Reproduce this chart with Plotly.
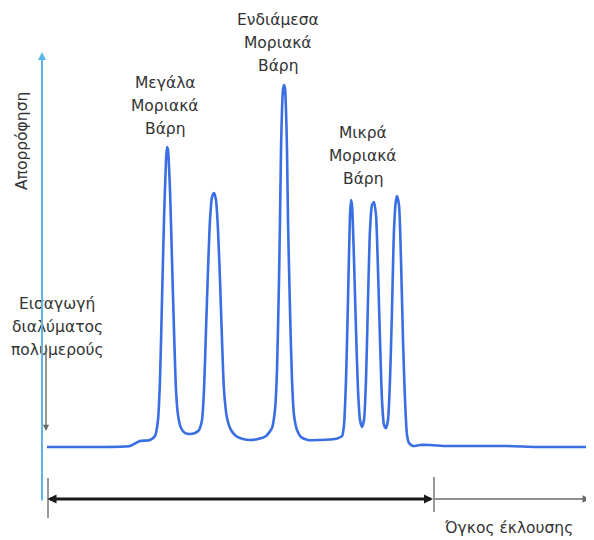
import plotly.graph_objects as go

# The page body has an 8px margin, so the figure is drawn 8px smaller and all layout
# positions below are given in page pixels and shifted by OFF.
PAGE_W, PAGE_H = 594, 540
OFF = 8
W, H = PAGE_W - OFF, PAGE_H - OFF

# Chromatogram: elution volume (arbitrary units) vs absorbance (arbitrary units)
volume = [0.5, 5.8, 8.8, 9.4, 9.8, 10.8, 11.3, 11.6, 11.8, 12.0, 12.2, 12.4, 12.5, 12.6, 12.8, 13.0,
          13.2, 13.4, 13.6, 13.9, 14.3, 14.8, 15.3, 15.7, 16.0, 16.2, 16.4, 16.6, 16.8, 17.0, 17.2,
          17.4, 17.6, 17.8, 18.0, 18.2, 18.5, 18.9, 19.4, 20.1, 20.8, 21.6, 22.4, 23.0, 23.3, 23.5,
          23.7, 23.8, 23.9, 24.0, 24.1, 24.2, 24.3, 24.4, 24.5, 24.6, 24.8, 25.0, 25.2, 25.5, 25.9,
          26.6, 27.8, 29.3, 30.0, 30.2, 30.4, 30.6, 30.8, 30.9, 31.0, 31.2, 31.4, 31.6, 31.8, 32.0,
          32.2, 32.4, 32.6, 32.8, 33.0, 33.2, 33.4, 33.6, 33.8, 34.0, 34.2, 34.4, 34.6, 34.8, 35.0,
          35.2, 35.4, 35.5, 35.7, 35.9, 36.1, 36.3, 36.5, 36.7, 37.1, 37.8, 38.8, 40.5, 43.5, 46.5,
          49.5, 52.0, 54.5]
absorb = [0.00, 0.00, 0.01, 0.04, 0.06, 0.07, 0.11, 0.27, 0.67, 1.47, 2.27, 2.87, 3.00, 2.97,
          2.57, 1.87, 1.17, 0.57, 0.32, 0.19, 0.14, 0.13, 0.14, 0.17, 0.27, 0.57, 1.17, 1.77, 2.27,
          2.50, 2.54, 2.47, 2.17, 1.67, 1.07, 0.57, 0.29, 0.17, 0.11, 0.08, 0.07, 0.08, 0.11, 0.19,
          0.37, 0.77, 1.67, 2.27, 2.97, 3.37, 3.57, 3.62, 3.59, 3.37, 2.97, 2.27, 1.37, 0.67, 0.32,
          0.17, 0.10, 0.07, 0.07, 0.08, 0.11, 0.22, 0.67, 1.47, 2.32, 2.47, 2.42, 1.87, 1.17, 0.57,
          0.27, 0.20, 0.27, 0.67, 1.47, 2.17, 2.42, 2.45, 2.32, 1.77, 1.07, 0.47, 0.22, 0.19, 0.27,
          0.67, 1.37, 2.17, 2.47, 2.51, 2.42, 1.87, 1.07, 0.47, 0.12, 0.04, 0.01, 0.02, 0.02, 0.01,
          0.01, 0.01, 0.00, 0.00, 0.00, 0.00]

# Text labels
y_title = "Απορρόφηση"
x_title = "Όγκος έκλουσης"
label_large = ["Μεγάλα", "Μοριακά", "Βάρη"]
label_mid = ["Ενδιάμεσα", "Μοριακά", "Βάρη"]
label_small = ["Μικρά", "Μοριακά", "Βάρη"]
label_inject = ["Εισαγωγή", "διαλύματος", "πολυμερούς"]

# Data frame mapping (page pixels): volume 0 at x=42, 10 px per unit; absorbance 0 at y=447, 100 px per unit
X0, XS = 42.0, 10.0
Y0, YS = 447.0, 100.0


def px(x):
    return (x - OFF) / W


def py(y):
    return 1 - (y - OFF) / H


fig = go.Figure()
fig.add_trace(go.Scatter(
    x=volume, y=absorb, mode="lines",
    line=dict(color="#3a6ee3", width=2.6, shape="spline", smoothing=0.6),
    hoverinfo="skip", showlegend=False))

annotations = []
FONT = dict(family="DejaVu Sans", size=15.5, color="#333333")


def stacked(lines, cx, y_first, dy=23):
    for i, t in enumerate(lines):
        annotations.append(dict(text=t, xref="paper", yref="paper", x=px(cx), y=py(y_first + i * dy),
                                xanchor="center", yanchor="middle", showarrow=False, font=FONT))


stacked(label_large, 165, 83)
stacked(label_mid, 278, 20)
stacked(label_small, 363, 133)
stacked(label_inject, 57, 304)

annotations.append(dict(text=y_title, xref="paper", yref="paper", x=px(22), y=py(141), textangle=-90,
                        xanchor="center", yanchor="middle", showarrow=False, font=FONT))
annotations.append(dict(text=x_title, xref="paper", yref="paper", x=px(508), y=py(528),
                        xanchor="center", yanchor="middle", showarrow=False, font=FONT))

# vertical (absorbance) axis arrow
annotations.append(dict(text="", xref="paper", yref="paper", x=px(42), y=py(52), ax=0, ay=450,
                        showarrow=True, arrowhead=2, arrowsize=0.8, arrowwidth=2, arrowcolor="#5ab6e8"))
# injection arrow
annotations.append(dict(text="", xref="paper", yref="paper", x=px(46), y=py(431), ax=0, ay=-88,
                        showarrow=True, arrowhead=2, arrowsize=0.9, arrowwidth=1.4, arrowcolor="#6a6a6a"))
# black thick horizontal arrow (both ends)
annotations.append(dict(text="", xref="paper", yref="paper", x=px(433), y=py(499), ax=-387, ay=0,
                        showarrow=True, arrowhead=2, arrowside="end+start", arrowsize=0.6,
                        arrowwidth=3, arrowcolor="#1a1a1a"))
# gray thin horizontal arrow
annotations.append(dict(text="", xref="paper", yref="paper", x=px(590), y=py(499), ax=-157, ay=0,
                        showarrow=True, arrowhead=2, arrowsize=1.0, arrowwidth=1.5, arrowcolor="#6a6a6a"))

shapes = [
    dict(type="line", xref="paper", yref="paper", x0=px(48), x1=px(48), y0=py(478), y1=py(518),
         line=dict(color="#777777", width=1.5)),
    dict(type="line", xref="paper", yref="paper", x0=px(434), x1=px(434), y0=py(477), y1=py(512),
         line=dict(color="#777777", width=1.5)),
]

fig.update_layout(
    width=W, height=H, margin=dict(l=0, r=0, t=0, b=0),
    paper_bgcolor="white", plot_bgcolor="white",
    xaxis=dict(range=[(OFF - X0) / XS, (PAGE_W - X0) / XS], visible=False, fixedrange=True),
    yaxis=dict(range=[(Y0 - PAGE_H) / YS, (Y0 - OFF) / YS], visible=False, fixedrange=True),
    annotations=annotations, shapes=shapes,
)

fig.write_html("out.html")
